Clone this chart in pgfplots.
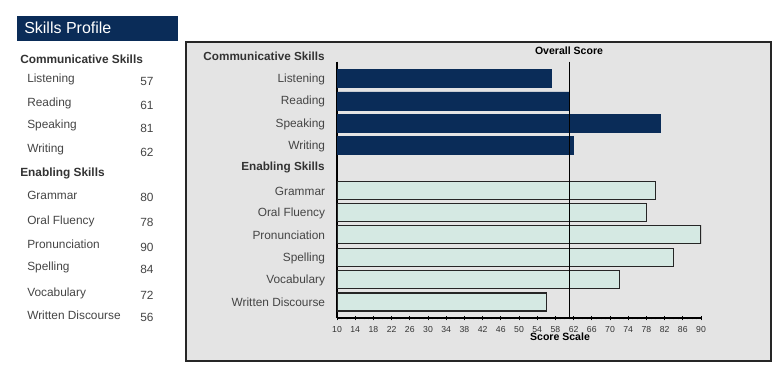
\documentclass[border=0pt]{standalone}
\usepackage{pgfplots}
\pgfplotsset{compat=1.18}
\usepackage{fontspec}
\setmainfont{Liberation Sans}
\definecolor{navy}{HTML}{0A2C58}
\definecolor{lightbar}{HTML}{D5E9E3}
\definecolor{panelbg}{HTML}{E4E4E4}
\definecolor{txt}{HTML}{454545}
\definecolor{hdr}{HTML}{333333}
\begin{document}
\begin{tikzpicture}[x=0.75pt,y=-0.75pt]
\path[fill=white] (0,0) rectangle (784,382);
% left panel
\fill[navy] (17,16) rectangle (178,41);
\node[anchor=west,text=white,font=\fontsize{12}{14}\selectfont,inner sep=0pt] at (24,28) {Skills Profile};
\begin{scope}[every node/.style={inner sep=0pt,anchor=west,font=\fontsize{8.9}{10}\selectfont,text=txt}]
\node[font=\fontsize{8.9}{10}\selectfont\bfseries,text=hdr] at (20,59.5) {Communicative Skills};
\node at (27,79) {Listening};      \node at (140,81) {57};
\node at (27,103) {Reading};       \node at (140,105) {61};
\node at (27,125) {Speaking};      \node at (140,128) {81};
\node at (27,149) {Writing};       \node at (140,152) {62};
\node[font=\fontsize{8.9}{10}\selectfont\bfseries,text=hdr] at (20,173) {Enabling Skills};
\node at (27,195) {Grammar};       \node at (140,197) {80};
\node at (27,221) {Oral Fluency};  \node at (140,222) {78};
\node at (27,244) {Pronunciation}; \node at (140,247) {90};
\node at (27,267) {Spelling};      \node at (140,269) {84};
\node at (27,293) {Vocabulary};    \node at (140,295) {72};
\node at (27,315) {Written Discourse}; \node at (140,317) {56};
\end{scope}
% chart frame
\draw[fill=panelbg,draw=black!85,line width=1pt] (186,42) rectangle (771,361);
\node[font=\fontsize{8.8}{10}\selectfont\bfseries,text=hdr,anchor=east,inner sep=0pt] at (325,56) {Communicative Skills};
\node[font=\fontsize{8.8}{10}\selectfont\bfseries,text=hdr,anchor=east,inner sep=0pt] at (325,167) {Enabling Skills};
\node[font=\fontsize{7.9}{9}\selectfont\bfseries,text=black,inner sep=0pt] at (569,51) {Overall Score};
\node[font=\fontsize{7.9}{9}\selectfont\bfseries,text=black,inner sep=0pt] at (560,337) {Score Scale};
\begin{axis}[
  at={(252.75pt,-238.5pt)}, anchor=south west,
  scale only axis, width=273pt, height=192.2pt,
  xmin=10, xmax=90, ymin=0.25, ymax=11.72, y dir=reverse,
  axis x line*=bottom, axis y line*=left,
  axis line style={line width=0.9pt,black},
  xtick={10,14,...,90}, minor x tick num=3,
  tick align=center, major tick length=3.5pt, minor tick length=2.2pt,
  x tick style={black,line width=0.6pt},
  ytick={1,2,3,4,6,7,8,9,10,11},
  yticklabels={Listening,Reading,Speaking,Writing,Grammar,Oral Fluency,Pronunciation,Spelling,Vocabulary,Written Discourse},
  y tick style={draw=none},
  yticklabel style={font=\fontsize{8.9}{10}\selectfont,text=txt,inner sep=0pt,xshift=-7pt,yshift=-0.6pt},
  xticklabel style={font=\fontsize{6.5}{7}\selectfont,text=hdr,inner sep=0pt,yshift=-4.3pt},
  /pgf/number format/assume math mode=true,
]
\addplot[xbar, bar width=13.5pt, fill=navy, draw=navy] coordinates {(57,1) (61,2) (81,3) (62,4)};
\addplot[xbar, bar width=13.5pt, fill=lightbar, draw=black!85, line width=0.9pt] coordinates {(80,6) (78,7) (90,8) (84,9) (72,10) (56,11)};
\addplot[black, line width=0.8pt] coordinates {(61,0.25) (61,11.72)};
\end{axis}
\end{tikzpicture}
\end{document}
